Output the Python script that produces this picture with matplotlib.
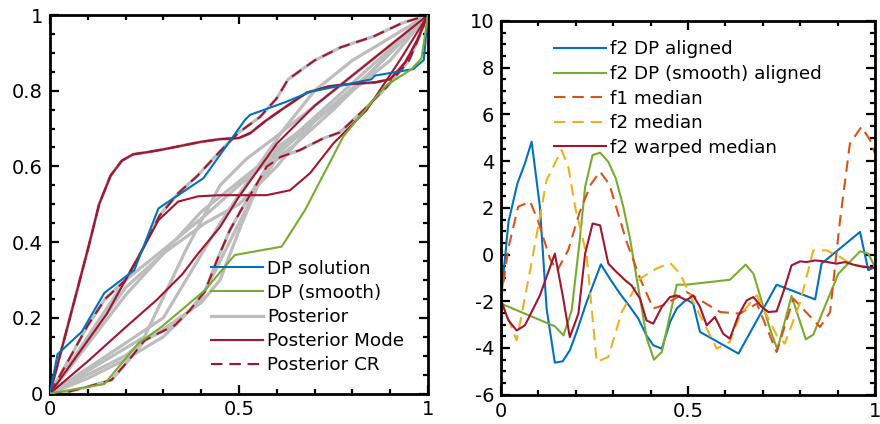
#!/usr/bin/env python3

from matplotlib import pyplot as plt
from matplotlib.ticker import MultipleLocator
import matplotlib

# colours (MATLAB default order)
BLUE = "#0072BD"
GREEN = "#77AC30"
ORANGE = "#D95319"
YELLOW = "#EDB120"
DRED = "#A2142F"
GRAY = "#BDBDBD"
DASH = (0, (5.5, 3.3))

# ---------------- left panel: warping functions ----------------
dp_x = [0, 0.02, 0.084, 0.144, 0.223, 0.287, 0.406, 0.516, 0.529, 0.626,
        0.688, 0.85, 0.86, 0.961, 0.989, 1]
dp_y = [0, 0.104, 0.163, 0.266, 0.326, 0.489, 0.569, 0.723, 0.736, 0.771,
        0.797, 0.83, 0.84, 0.857, 0.881, 1]

dps_x = [0, 0.144, 0.234, 0.295, 0.41, 0.489, 0.613, 0.675, 0.776, 0.855,
         0.891, 0.957, 0.983, 1]
dps_y = [0, 0.025, 0.133, 0.176, 0.273, 0.366, 0.388, 0.485, 0.679, 0.775,
         0.815, 0.857, 0.886, 1]

# posterior samples (gray)
post_x = [
    [0, 0.05, 0.1, 0.13, 0.16, 0.19, 0.22, 0.26, 0.3, 0.35, 0.4, 0.45, 0.5,
     0.53, 0.57, 0.62, 0.68, 0.74, 0.8, 0.86, 0.9, 0.94, 0.97, 1],
    [0, 0.05, 0.1, 0.146, 0.2, 0.25, 0.29, 0.34, 0.39, 0.45, 0.5, 0.556,
     0.6, 0.63, 0.7, 0.77, 0.855, 0.93, 1],
    [0, 0.05, 0.1, 0.163, 0.21, 0.251, 0.287, 0.33, 0.37, 0.41, 0.441,
     0.475, 0.511, 0.545, 0.573, 0.61, 0.661, 0.723, 0.767, 0.83, 0.891,
     0.95, 0.98, 1],
    [0, 0.1, 0.2, 0.3, 0.41, 0.5, 0.6, 0.7, 0.8, 0.9, 1],
    [0, 0.1, 0.2, 0.3, 0.41, 0.5, 0.6, 0.7, 0.85, 1],
    [0, 0.1, 0.2, 0.25, 0.3, 0.4, 0.45, 0.5, 0.55, 0.6, 0.7, 0.8, 0.9, 1],
    [0, 0.1, 0.25, 0.36, 0.45, 0.52, 0.6, 0.75, 0.9, 1],
    [0, 0.1, 0.2, 0.3, 0.4, 0.5, 0.55, 0.6, 0.65, 0.75, 0.9, 1],
    [0, 0.15, 0.3, 0.45, 0.55, 0.62, 0.7, 0.8, 0.9, 1],
    [0, 0.1, 0.2, 0.3, 0.4, 0.5, 0.6, 0.7, 0.8, 0.9, 1],
]
post_y = [
    [0, 0.19, 0.38, 0.5, 0.575, 0.615, 0.632, 0.638, 0.645, 0.655, 0.665,
     0.672, 0.675, 0.688, 0.72, 0.755, 0.795, 0.812, 0.818, 0.822, 0.83,
     0.875, 0.93, 1],
    [0, 0.09, 0.18, 0.25, 0.3, 0.39, 0.47, 0.53, 0.575, 0.64, 0.69, 0.731,
     0.78, 0.83, 0.88, 0.915, 0.943, 0.978, 1],
    [0, 0.005, 0.018, 0.036, 0.09, 0.141, 0.159, 0.18, 0.22, 0.27, 0.35,
     0.43, 0.494, 0.55, 0.599, 0.625, 0.643, 0.674, 0.69, 0.749, 0.81,
     0.88, 0.95, 1],
    [0, 0.15, 0.3, 0.38, 0.47, 0.55, 0.63, 0.72, 0.8, 0.9, 1],
    [0, 0.14, 0.28, 0.37, 0.45, 0.5, 0.6, 0.72, 0.85, 1],
    [0, 0.05, 0.1, 0.14, 0.17, 0.24, 0.3, 0.43, 0.55, 0.65, 0.72, 0.8,
     0.88, 1],
    [0, 0.06, 0.15, 0.38, 0.55, 0.62, 0.68, 0.8, 0.92, 1],
    [0, 0.04, 0.09, 0.15, 0.25, 0.45, 0.55, 0.62, 0.66, 0.75, 0.9, 1],
    [0, 0.1, 0.2, 0.45, 0.6, 0.7, 0.8, 0.88, 0.94, 1],
    [0, 0.13, 0.26, 0.37, 0.48, 0.56, 0.64, 0.73, 0.82, 0.91, 1],
]

# posterior mode (solid dark red)
mode_x = [
    [0, 0.05, 0.1, 0.13, 0.16, 0.19, 0.22, 0.26, 0.3, 0.35, 0.4, 0.45, 0.5,
     0.53, 0.57, 0.62, 0.68, 0.74, 0.8, 0.86, 0.9, 0.94, 0.97, 1],
    [0, 0.05, 0.1, 0.15, 0.19, 0.234, 0.287, 0.339, 0.392, 0.45, 0.5,
     0.573, 0.635, 0.688, 0.75, 0.838, 0.926, 1],
    [0, 0.1, 0.2, 0.282, 0.35, 0.392, 0.45, 0.5, 0.55, 0.6, 0.65, 0.7,
     0.8, 0.9, 1],
]
mode_y = [
    [0, 0.19, 0.38, 0.5, 0.575, 0.615, 0.632, 0.638, 0.645, 0.655, 0.665,
     0.672, 0.675, 0.688, 0.72, 0.755, 0.795, 0.812, 0.818, 0.822, 0.83,
     0.875, 0.93, 1],
    [0, 0.07, 0.14, 0.21, 0.282, 0.361, 0.458, 0.507, 0.521, 0.524, 0.524,
     0.524, 0.537, 0.582, 0.661, 0.749, 0.881, 1],
    [0, 0.085, 0.175, 0.247, 0.315, 0.37, 0.44, 0.52, 0.59, 0.66, 0.71,
     0.76, 0.84, 0.92, 1],
]

# posterior credible region (dashed dark red)
cr_x = [post_x[0], post_x[1], post_x[2]]
cr_y = [post_y[0], post_y[1], post_y[2]]

# ---------------- right panel: functions ----------------
f2dp_x = [0, 0.02, 0.044, 0.064, 0.082, 0.104, 0.122, 0.144, 0.165, 0.184,
          0.202, 0.229, 0.267, 0.291, 0.318, 0.345, 0.367, 0.389, 0.407,
          0.43, 0.452, 0.47, 0.496, 0.514, 0.532, 0.635, 0.737, 0.84,
          0.857, 0.96, 0.982, 1]
f2dp_y = [-1.96, 1.4, 3.05, 3.9, 4.83, 2.05, -2.32, -4.63, -4.57, -4.1,
          -3.32, -2.03, -0.42, -1.03, -1.67, -2.24, -2.74, -3.46, -3.88,
          -4.03, -2.89, -2.31, -1.92, -2.1, -3.31, -4.24, -1.29, -1.92,
          -0.39, 0.97, -0.67, -0.53]

f2dps_x = [0, 0.144, 0.167, 0.189, 0.211, 0.225, 0.245, 0.265, 0.287,
           0.307, 0.327, 0.345, 0.39, 0.409, 0.43, 0.47, 0.495, 0.612,
           0.654, 0.675, 0.719, 0.739, 0.777, 0.815, 0.835, 0.902, 0.96,
           0.982, 1]
f2dps_y = [-2.1, -3.07, -3.46, -2.39, 0.68, 2.9, 4.26, 4.36, 3.97, 3.26,
           2.05, 0.68, -3.6, -4.5, -4.17, -1.29, -1.29, -1.08, -0.43, -0.82,
           -3.17, -4.06, -1.77, -3.63, -3.43, -0.82, 0.14, 0.04, -0.53]

f1med_x = [0, 0.02, 0.046, 0.078, 0.1, 0.131, 0.15, 0.18, 0.21, 0.24, 0.265,
           0.29, 0.336, 0.372, 0.407, 0.434, 0.496, 0.541, 0.586, 0.639,
           0.684, 0.737, 0.782, 0.853, 0.88, 0.906, 0.933, 0.964, 0.987, 1]
f1med_y = [-1.96, 0.3, 2.05, 2.27, 1.4, -0.18, -0.7, 0.2, 1.8, 3.0, 3.55,
           3.0, 0.54, -1.03, -2.31, -2.17, -1.6, -2.03, -2.46, -2.53, -2.1,
           -4.17, -1.89, -3.1, -2.46, 1.4, 4.76, 5.47, 4.9, 4.33]

f2med_x = [0, 0.042, 0.08, 0.122, 0.162, 0.18, 0.198, 0.229, 0.256, 0.287,
           0.323, 0.372, 0.416, 0.452, 0.479, 0.514, 0.577, 0.612, 0.639,
           0.684, 0.737, 0.759, 0.8, 0.835, 0.871, 0.906, 0.942, 1]
f2med_y = [-1.96, -3.67, -0.5, 3.19, 4.47, 3.76, 2.05, -0.03, -4.6, -4.38,
           -2.46, -1.03, -0.6, -0.36, -0.82, -2.03, -4.03, -3.74, -2.6,
           -1.74, -3.46, -3.81, -2.03, 0.18, 0.18, -0.1, -0.46, -0.53]

f2warp_x = [0, 0.02, 0.042, 0.064, 0.104, 0.144, 0.165, 0.184, 0.207, 0.225,
            0.245, 0.265, 0.287, 0.309, 0.332, 0.349, 0.372, 0.389, 0.407,
            0.43, 0.452, 0.47, 0.496, 0.514, 0.532, 0.55, 0.572, 0.594,
            0.612, 0.635, 0.657, 0.675, 0.697, 0.715, 0.737, 0.755, 0.777,
            0.8, 0.817, 0.84, 0.862, 0.897, 0.92, 0.942, 0.969, 1]
f2warp_y = [-1.96, -2.82, -3.25, -3.03, -1.75, 0.04, -1.75, -3.53, -2.53,
            0.04, 1.33, 1.25, -0.39, -0.75, -1.1, -1.32, -1.89, -2.82, -2.96,
            -2.24, -1.82, -1.75, -1.96, -1.75, -2.24, -3.03, -2.67, -3.39,
            -3.6, -2.6, -1.96, -1.82, -2.24, -2.46, -2.43, -1.6, -0.46, -0.29,
            -0.32, -0.25, -0.29, -0.39, -0.32, -0.43, -0.53, -0.57]


def setup():
    matplotlib.rcParams.update({
        "font.family": "DejaVu Sans",
        "font.size": 14,
        "legend.fontsize": 13.2,
        "axes.unicode_minus": False,
        "axes.linewidth": 2.0,
        "xtick.direction": "in",
        "ytick.direction": "in",
        "xtick.top": True,
        "ytick.right": True,
        "xtick.major.size": 6.5,
        "ytick.major.size": 6.5,
        "xtick.minor.size": 3.5,
        "ytick.minor.size": 3.5,
        "xtick.major.width": 1.6,
        "ytick.major.width": 1.6,
        "xtick.minor.width": 1.6,
        "ytick.minor.width": 1.6,
        "xtick.major.pad": 5,
        "ytick.major.pad": 5,
    })


def style_axes(ax, yticks, ylabels, yminor):
    ax.set_xlim(0, 1)
    ax.set_xticks([0, 0.5, 1])
    ax.set_xticklabels(["0", "0.5", "1"])
    ax.xaxis.set_minor_locator(MultipleLocator(0.1))
    ax.set_yticks(yticks)
    ax.set_yticklabels(ylabels)
    ax.yaxis.set_minor_locator(MultipleLocator(yminor))


def plot_left(ax):
    lw = 1.5
    for i, (x, y) in enumerate(zip(post_x, post_y)):
        ax.plot(x, y, color=GRAY, lw=2.3, label="Posterior" if i == 0 else None,
                zorder=1)
    ax.plot(dp_x, dp_y, color=BLUE, lw=lw, label="DP solution", zorder=3)
    ax.plot(dps_x, dps_y, color=GREEN, lw=lw, label="DP (smooth)", zorder=3)
    for i, (x, y) in enumerate(zip(mode_x, mode_y)):
        ax.plot(x, y, color=DRED, lw=lw, zorder=2,
                label="Posterior Mode" if i == 0 else None)
    for i, (x, y) in enumerate(zip(cr_x, cr_y)):
        ax.plot(x, y, color=DRED, lw=lw, ls=DASH, zorder=2,
                label="Posterior CR" if i == 0 else None)

    style_axes(ax, [0, 0.2, 0.4, 0.6, 0.8, 1],
               ["0", "0.2", "0.4", "0.6", "0.8", "1"], 0.05)
    ax.set_ylim(0, 1)

    h, l = ax.get_legend_handles_labels()
    order = [l.index(s) for s in ["DP solution", "DP (smooth)", "Posterior",
                                  "Posterior Mode", "Posterior CR"]]
    ax.legend([h[i] for i in order], [l[i] for i in order],
              loc="upper left", bbox_to_anchor=(0.426, 0.354), frameon=False,
              handlelength=2.85, handletextpad=0.2, labelspacing=0.34,
              borderpad=0, borderaxespad=0)


def plot_right(ax):
    lw = 1.5
    ax.plot(f2dp_x, f2dp_y, color=BLUE, lw=lw, label="f2 DP aligned")
    ax.plot(f2dps_x, f2dps_y, color=GREEN, lw=lw,
            label="f2 DP (smooth) aligned")
    ax.plot(f1med_x, f1med_y, color=ORANGE, lw=lw, ls=DASH,
            label="f1 median")
    ax.plot(f2med_x, f2med_y, color=YELLOW, lw=lw, ls=DASH,
            label="f2 median")
    ax.plot(f2warp_x, f2warp_y, color=DRED, lw=lw, label="f2 warped median")

    yt = list(range(-6, 11, 2))
    style_axes(ax, yt, [str(v) for v in yt], 0.5)
    ax.set_ylim(-6, 10)
    ax.legend(loc="upper left", bbox_to_anchor=(0.142, 0.948), frameon=False,
              handlelength=2.85, handletextpad=0.2, labelspacing=0.36,
              borderpad=0, borderaxespad=0)


def main():
    setup()
    fig = plt.figure(figsize=(8.8, 4.24), dpi=100)
    ax1 = fig.add_axes([0.0568, 0.0719, 0.4295, 0.8927])
    ax2 = fig.add_axes([0.5693, 0.0691, 0.425, 0.8814])
    plot_left(ax1)
    plot_right(ax2)
    fig.savefig("out.png", dpi=100)


if __name__ == "__main__":
    main()
